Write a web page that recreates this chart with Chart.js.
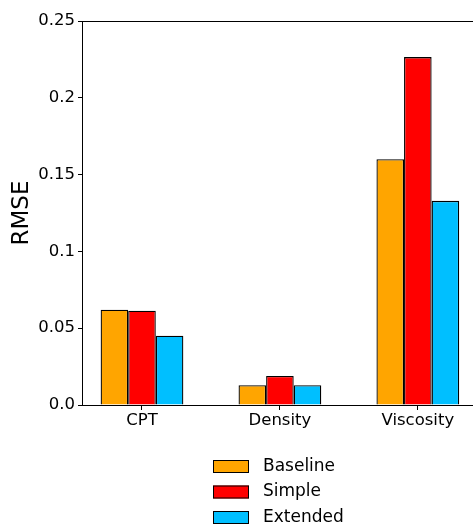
<!DOCTYPE html>
<html>
<head>
<meta charset="utf-8">
<script src="https://cdn.jsdelivr.net/npm/chart.js@4/dist/chart.umd.min.js"></script>
<style>
    html, body { margin: 0; padding: 0; background: #fff; }
    #wrap { width: 473px; height: 525px; }
</style>
</head>
<body>
<div id="wrap"><canvas id="chart-container" width="473" height="525"></canvas></div>
<script>
const categories = ["CPT", "Density", "Viscosity"];
const seriesNames = ["Baseline", "Simple", "Extended"];
const baselineValues = [0.0620, 0.0129, 0.1600];
const simpleValues = [0.0614, 0.0189, 0.2265];
const extendedValues = [0.0451, 0.0129, 0.1329];
const yTicks = [0, 0.05, 0.1, 0.15, 0.2, 0.25];

const colors = ["#FFA500", "#FF0000", "#00BFFF"];
const FONT = "'DejaVu Sans', sans-serif";

function toPoints(values) {
    return values.map((v, i) => ({ x: i, y: v }));
}

function formatTick(v) {
    if (v === 0) return "0.0";
    return String(Number(v.toFixed(2)));
}

// top spine + vertical legend drawn straight onto the canvas
const extrasPlugin = {
    id: "extras",
    afterDraw(chart) {
        const ctx = chart.ctx;
        const area = chart.chartArea;

        ctx.save();
        ctx.strokeStyle = "#000";
        ctx.lineWidth = 1;
        ctx.beginPath();
        ctx.moveTo(area.left, area.top + 0.5);
        ctx.lineTo(chart.width, area.top + 0.5);
        ctx.stroke();

        const boxX = 213, boxW = 36, boxH = 13;
        const firstRow = 466.5, rowGap = 25.5;
        ctx.font = "17px " + FONT;
        ctx.textBaseline = "middle";
        chart.data.datasets.forEach(function (ds, i) {
            const cy = firstRow + i * rowGap;
            ctx.fillStyle = ds.backgroundColor;
            ctx.fillRect(boxX, cy - boxH / 2, boxW, boxH);
            ctx.strokeStyle = "#000";
            ctx.lineWidth = 1;
            ctx.strokeRect(boxX + 0.5, cy - boxH / 2 + 0.5, boxW - 1, boxH - 1);
            ctx.fillStyle = "#000";
            ctx.fillText(ds.label, 263, cy);
        });
        ctx.restore();
    }
};

const ctx = document.getElementById("chart-container").getContext("2d");

new Chart(ctx, {
    type: "bar",
    data: {
        datasets: [baselineValues, simpleValues, extendedValues].map(function (vals, i) {
            return {
                label: seriesNames[i],
                data: toPoints(vals),
                backgroundColor: colors[i],
                borderColor: "#000",
                borderWidth: 1.3,
                categoryPercentage: 0.6,
                barPercentage: 1.0,
            };
        }),
    },
    options: {
        responsive: false,
        animation: false,
        devicePixelRatio: 1,
        layout: {
            padding: { top: 21, right: 0, bottom: 90, left: 0 },
        },
        plugins: {
            legend: { display: false },
            tooltip: { enabled: false },
        },
        scales: {
            x: {
                type: "linear",
                offset: false,
                min: -0.435,
                max: 2.4,
                afterBuildTicks: function (scale) {
                    scale.ticks = categories.map((c, i) => ({ value: i }));
                },
                afterFit: function (scale) {
                    scale.height = 30;
                },
                grid: {
                    display: true,
                    offset: false,
                    drawOnChartArea: false,
                    drawTicks: true,
                    tickLength: 5,
                    color: "#000",
                },
                border: { display: true, color: "#000", width: 1 },
                ticks: {
                    autoSkip: false,
                    maxRotation: 0,
                    padding: 1,
                    color: "#000",
                    font: { family: FONT, size: 16.5 },
                    callback: function (v) {
                        return categories[v];
                    },
                },
            },
            y: {
                min: 0,
                max: 0.25,
                afterBuildTicks: function (scale) {
                    scale.ticks = yTicks.map(v => ({ value: v }));
                },
                afterFit: function (scale) {
                    scale.width = 82;
                },
                grid: {
                    display: true,
                    drawOnChartArea: false,
                    drawTicks: true,
                    tickLength: 4,
                    color: "#000",
                },
                border: { display: true, color: "#000", width: 1 },
                title: {
                    display: true,
                    text: "RMSE",
                    color: "#000",
                    font: { family: FONT, size: 23 },
                    padding: { top: 8, bottom: 0 },
                },
                ticks: {
                    padding: 3,
                    color: "#000",
                    font: { family: FONT, size: 16.5 },
                    callback: formatTick,
                },
            },
        },
    },
    plugins: [extrasPlugin],
});
</script>
</body>
</html>
